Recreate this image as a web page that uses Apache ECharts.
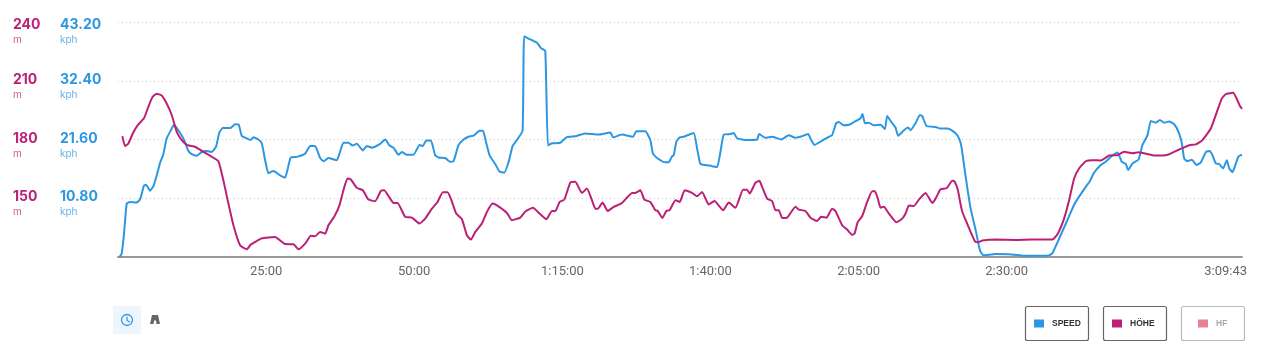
<!DOCTYPE html>
<html>
<head>
<meta charset="utf-8">
<title>Speed / Höhe</title>
<script src="https://cdn.jsdelivr.net/npm/echarts@6/dist/echarts.min.js"></script>
<style>
  html, body { margin: 0; padding: 0; background: #fff; }
  #chart { width: 1265px; height: 359px; }
</style>
</head>
<body>
<div id="chart"></div>
<script>
// x values are seconds since the start
const speedTimes = [14,37,61,88,122,189,223,263,284,324,358,392,426,459,493,527,568,611,662,713,747,797,848,899,949,993,1027,1061,1135,1186,1223,1253,1304,1344,1371,1422,1456,1490,1523,1574,1642,1692,1716,1750,1811,1895,1946,1996,2030,2047,
  2081,2131,2216,2243,2283,2334,2375,2419,2479,2520,2571,2655,2706,2750,2790,2841,2875,2925,2993,3054,3087,3121,3169,3212,3246,3314,3364,3398,3449,3500,3550,3601,3662,3696,3726,3763,3820,3864,3912,3956,3996,4040,4097,4114,4175,4243,4283,4327,4354,4395,4479,4540,4631,4733,4868,4986,5013,5104,5216,5249,5290,
  5341,5391,5418,5459,5543,5577,5611,5628,5655,5689,5729,5830,5864,5898,5949,6016,6067,6101,6135,6202,6236,6270,6371,6472,6493,6557,6624,6716,6793,6861,6911,6989,7020,7053,7114,7199,7232,7273,7300,7351,7401,7452,7520,7540,7564,7604,7655,7722,7766,7790,7840,7874,7901,7959,8003,8026,8077,8121,8145,8188,8280,8330,8398,8465,8506,8533,
  8544,8585,8635,8686,8730,8764,8889,9024,9159,9328,9429,9463,9531,9615,9683,9733,9801,9841,9885,9953,10003,10054,10122,10166,10206,10230,10274,10335,10375,10426,10460,10510,10551,10595,10645,10696,10740,10774,10797,10831,10875,10922,10966,11017,11057,11084,11118,11152,11192,11230,11253,11287,11321,11348,11383];
const speedValues = [0,0.6,4.3,9.8,10.1,10.0,10.6,13.1,13.3,12.2,13.0,15.0,17.3,18.9,21.8,23.0,24.3,23.3,21.8,19.5,18.9,18.6,19.3,19.5,19.3,20.3,22.9,23.7,23.7,24.4,24.3,22.3,21.8,21.5,22.0,21.6,20.9,17.8,15.4,15.8,15.0,14.6,16.0,18.3,18.4,19.0,20.4,20.4,19.0,18.2,
  17.6,18.2,17.8,19.0,21.0,21.0,20.5,20.8,19.6,20.4,20.1,20.8,21.6,20.5,20.1,18.8,19.3,18.8,18.8,20.6,20.4,21.4,21.4,18.7,18.3,18.2,17.5,17.6,20.6,21.6,22.1,22.3,23.2,23.2,21.2,18.7,17.1,15.7,15.5,17.5,20.4,21.5,23.2,40.6,40.0,39.4,38.4,37.9,20.5,20.9,21.0,22.0,22.2,22.7,22.5,22.9,22.0,22.5,22.1,23.1,23.1,
  23.1,21.5,19.0,18.2,17.4,17.4,18.5,18.7,21.2,22.0,22.1,22.8,20.0,17.1,16.9,16.7,16.5,19.3,22.5,22.6,22.8,21.8,21.5,21.6,22.6,21.9,22.1,21.6,22.4,21.9,22.1,22.6,21.5,20.6,21.2,22.1,22.4,24.6,24.8,24.2,24.3,24.8,25.5,26.3,24.6,24.7,24.2,24.3,23.5,25.9,24.6,23.8,22.3,23.3,23.8,23.3,24.6,26.1,25.9,24.1,23.9,23.6,23.6,23.0,22.2,21.0,
  20.0,14.7,8.9,4.9,1.2,0.3,0.55,0.5,0.25,0.25,0.3,0.7,3.4,6.8,9.6,11.1,12.9,13.9,15.5,16.9,17.5,18.4,19.2,17.5,17.1,16.0,17.2,17.9,20.6,22.4,25.0,24.7,25.2,24.7,24.9,24.4,23.0,20.9,18.1,17.6,17.9,16.9,17.4,19.3,19.5,18.7,17.2,17.1,16.3,17.8,16.3,15.6,17.2,18.5,18.8];

const altTimes = [44,71,105,155,206,263,307,351,392,442,493,544,595,645,703,780,865,949,1017,1067,1118,1169,1236,1304,1344,1456,1591,1692,1777,1828,1895,1953,1996,2047,
  2098,2131,2189,2243,2283,2324,2358,2419,2479,2537,2604,2662,2696,2756,2790,2831,2908,2976,3054,3111,3179,3236,3290,3337,3371,3425,3483,3533,3574,3618,3685,3736,3793,3837,3939,3989,4074,4125,4202,4277,4337,4395,4428,4473,4520,4581,4631,4699,4749,4800,4834,4861,4908,4959,5020,5104,5206,5239,5290,
  5331,5391,5442,5466,5513,5553,5587,5645,5689,5739,5814,5864,5915,5982,6040,6128,6185,6253,6330,6371,6398,6455,6496,6523,6574,6624,6658,6692,6726,6776,6861,6895,6962,7013,7080,7121,7175,7232,7266,7334,7384,7435,7459,7492,7536,7587,7638,7665,7695,7722,7756,7807,7884,7942,7976,8009,8060,8111,8178,8246,8280,8330,8391,8449,8472,8506,8533,
  8551,8585,8635,8679,8710,8754,8889,9091,9260,9463,9514,9581,9632,9683,9733,9801,9868,9953,10037,10122,10189,10274,10335,10476,10578,10645,10747,10848,10916,10983,11067,11135,11179,11220,11294,11328,11362,11383];
const altValues = [181.7,176.6,178,183.6,187.7,190.8,196.7,201.8,203.4,202.5,198.4,192.5,183.9,179.7,177.1,176.3,173.7,171.2,168.9,159.2,147.3,136.2,126.0,123.9,126.3,129.5,130.2,126.6,126.5,123.9,126.8,130.9,130.6,132.8,
  131.9,136.2,140.5,146.4,154.1,160.1,159.6,155.3,154.1,149.3,148.5,153.8,154.1,149.8,147.6,147.6,140.5,140.1,137.1,139.6,144.7,148.1,153.1,153.1,149.8,142.2,139.3,131.1,128.9,132.8,137.1,143.0,147.3,146.4,142.5,138.8,140.1,143.2,145.1,141.8,139.3,143.5,143.4,148.1,149.3,158.0,158.4,152.7,155.0,149.0,144.7,144.7,147.8,143.5,145.6,147.6,152.7,152.7,154.1,
  149.3,148.1,143.9,143.5,139.9,143.5,143.9,149.0,148.1,154.1,152.7,151.0,153.2,146.8,148.6,143.9,147.8,145.1,154.4,154.4,152.4,157.9,158.9,155.8,149.8,148.6,143.9,143.9,139.9,140.1,145.6,144.2,143.5,140.1,138.4,140.5,140.1,144.7,143.5,136.2,134.0,131.3,131.9,137.9,140.8,148.1,153.6,153.6,149.8,145.2,145.6,142.2,137.7,139.6,142.2,146.3,146.1,149.3,152.7,147.6,149.8,154.6,155.1,158.9,158.5,154.1,146.9,
  143.0,138.8,132.8,128.0,127.5,128.4,128.9,128.7,128.9,128.9,131.6,139.6,149.0,160.1,165.2,168.9,169.4,169.3,171.8,172.0,173.7,173.0,173.5,172.0,171.8,172.5,174.9,177.1,177.5,179.7,185.6,195.0,201.0,203.2,203.9,201.0,197.1,195.7];

const hfValues = [];

const timeTicks = [1500, 3000, 4500, 6000, 7500, 9000, 11383];
const timeTickLabels = ['25:00', '50:00', '1:15:00', '1:40:00', '2:05:00', '2:30:00', '3:09:43'];
const speedTicks = ['10.80', '21.60', '32.40', '43.20'];
const altTicks = ['150', '180', '210', '240'];

const BLUE = '#2b97e3';
const MAGENTA = '#bc2076';
const PINK = '#e8818f';

function pairs(xs, ys) {
  return xs.map((x, i) => [x, ys[i]]);
}

// number with the unit underneath it, the top one sits a bit lower so it stays inside
function yLabel(ticks, step, base, unit) {
  return function (value) {
    const i = Math.round((value - base) / step) - 1;
    if (i < 0 || i >= ticks.length) return '';
    if (i === ticks.length - 1) return '{numTop|' + ticks[i] + '}\n{unitTop|' + unit + '}';
    return '{num|' + ticks[i] + '}\n{unit|' + unit + '}';
  };
}

function yRich(color) {
  const num = { fontFamily: 'Inter', fontWeight: 700, fontSize: 14, color: color, lineHeight: 16, align: 'left' };
  const unit = { fontFamily: 'Inter', fontSize: 10, color: color, opacity: 0.75, lineHeight: 14, align: 'left' };
  return {
    num: num,
    numTop: Object.assign({}, num, { padding: [8, 0, 0, 0] }),
    unit: unit,
    unitTop: Object.assign({}, unit, { padding: [8, 0, 0, 0] })
  };
}

function legendAt(left, name, color, textColor) {
  return {
    left: left, top: 319, data: [{ name: name, icon: 'rect', itemStyle: { color: color } }],
    itemWidth: 10, itemHeight: 8, itemGap: 0, selectedMode: false, padding: 0,
    textStyle: { fontFamily: 'Liberation Sans', fontWeight: 'bold', fontSize: 8.5, color: textColor, padding: [0, 0, 0, 3] }
  };
}

function legendBox(x, color) {
  return {
    type: 'rect', z: -1, shape: { x: x + 0.5, y: 306.5, width: 63, height: 34, r: 2 },
    style: { fill: '#fff', stroke: color, lineWidth: 1.2 }
  };
}

const option = {
  animation: false,
  backgroundColor: '#fff',
  grid: { left: 118, right: 23, top: 22, bottom: 102 },
  legend: [
    legendAt(1034, 'SPEED', BLUE, '#333'),
    legendAt(1112, 'HÖHE', MAGENTA, '#333'),
    legendAt(1198, 'HF', PINK, '#aaa')
  ],
  xAxis: {
    type: 'value', min: 0, max: 11383,
    axisLine: { show: true, onZero: false, lineStyle: { color: '#999', width: 2 } },
    axisTick: { show: false },
    splitLine: { show: false },
    axisLabel: {
      customValues: timeTicks,
      alignMaxLabel: 'right',
      margin: 8,
      fontFamily: 'Roboto',
      fontSize: 13,
      color: '#666',
      formatter: function (value) {
        const text = timeTickLabels[timeTicks.indexOf(value)];
        return value === 11383 ? '{last|' + text + '}' : text;
      },
      rich: {
        // the end label hangs a little past the plot
        last: { fontFamily: 'Roboto', fontSize: 13, color: '#666', padding: [0, -5, 0, 0] }
      }
    }
  },
  yAxis: [
    {
      type: 'value', min: 0, max: 43.2, interval: 10.8,
      axisLine: { show: false }, axisTick: { show: false },
      splitLine: { show: true, lineStyle: { color: '#ccc', type: [1, 3], width: 1 } },
      axisLabel: {
        margin: 58, align: 'left', verticalAlign: 'top', padding: [-9, 0, 0, 0],
        formatter: yLabel(speedTicks, 10.8, 0, 'kph'), rich: yRich(BLUE)
      }
    },
    {
      type: 'value', min: 120, max: 240, interval: 30, position: 'left',
      axisLine: { show: false }, axisTick: { show: false },
      splitLine: { show: false },
      axisLabel: {
        margin: 105, align: 'left', verticalAlign: 'top', padding: [-9, 0, 0, 0],
        formatter: yLabel(altTicks, 30, 120, 'm'), rich: yRich(MAGENTA)
      }
    }
  ],
  series: [
    {
      name: 'SPEED', type: 'line', yAxisIndex: 0, showSymbol: false, smooth: 0.15, clip: false,
      lineStyle: { color: BLUE, width: 2 }, itemStyle: { color: BLUE },
      data: pairs(speedTimes, speedValues)
    },
    {
      name: 'HÖHE', type: 'line', yAxisIndex: 1, showSymbol: false, smooth: 0.15, clip: false,
      lineStyle: { color: MAGENTA, width: 2 }, itemStyle: { color: MAGENTA },
      data: pairs(altTimes, altValues)
    },
    {
      name: 'HF', type: 'line', yAxisIndex: 0, showSymbol: false,
      lineStyle: { color: PINK, width: 2 }, itemStyle: { color: PINK },
      data: hfValues
    }
  ],
  graphic: [
    legendBox(1025, '#666'),
    legendBox(1103, '#666'),
    legendBox(1181, '#bbb'),
    // time / distance switch, bottom left
    { type: 'rect', shape: { x: 113, y: 306, width: 28, height: 28 }, style: { fill: '#edf6fd' } },
    { type: 'circle', shape: { cx: 127, cy: 320, r: 5.5 }, style: { fill: 'none', stroke: BLUE, lineWidth: 1.3 } },
    { type: 'polyline', shape: { points: [[127, 316.5], [127, 320.5], [130, 322]] }, style: { fill: 'none', stroke: BLUE, lineWidth: 1.2 } },
    { type: 'polygon', shape: { points: [[152, 315], [158, 315], [160, 324], [156.5, 324], [156, 320.5], [154, 320.5], [153.5, 324], [150, 324]] }, style: { fill: '#666' } }
  ]
};

const chart = echarts.init(document.getElementById('chart'), null, { renderer: 'canvas' });
chart.setOption(option);
</script>
</body>
</html>
